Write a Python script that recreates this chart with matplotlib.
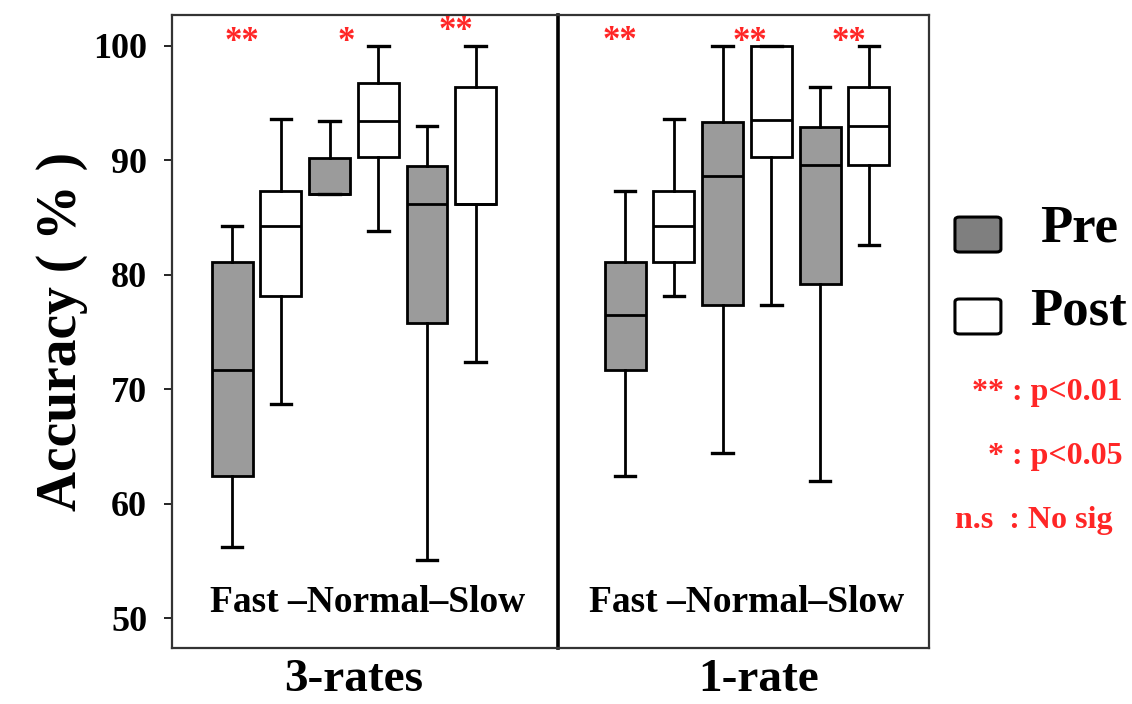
import matplotlib
matplotlib.use("Agg")
import matplotlib.pyplot as plt
from matplotlib.patches import FancyBboxPatch

plt.rcParams["font.family"] = ["Liberation Serif", "DejaVu Serif"]
plt.rcParams["font.weight"] = "bold"
plt.rcParams["axes.labelweight"] = "bold"

# ---------------------------------
# Data: each box is [whislo, q1, median, q3, whishi]
# ---------------------------------
rates = ["Fast", "Normal", "Slow"]
panel_names = ["3-rates", "1-rate"]

r3_pre = [[56.2, 62.4, 71.7, 81.1, 84.2],
          [87.0, 87.0, 87.0, 90.2, 93.4],
          [55.1, 75.8, 86.2, 89.5, 93.0]]
r3_post = [[68.7, 78.1, 84.2, 87.3, 93.6],
           [83.8, 90.3, 93.4, 96.7, 100.0],
           [72.4, 86.2, 86.2, 96.4, 100.0]]
r1_pre = [[62.4, 71.7, 76.5, 81.1, 87.3],
          [64.4, 77.3, 88.6, 93.3, 100.0],
          [62.0, 79.2, 89.6, 92.9, 96.4]]
r1_post = [[78.1, 81.1, 84.2, 87.3, 93.6],
           [77.3, 90.3, 93.5, 100.0, 100.0],
           [82.6, 89.6, 93.0, 96.4, 100.0]]

sig_3 = ["**", "*", "**"]
sig_1 = ["**", "**", "**"]
notes = ["** : p<0.01", "* : p<0.05", "n.s  : No sig"]
yticks = [50, 60, 70, 80, 90, 100]

RED = "#ff2626"
PRE_FILL = "#9b9b9b"


def to_stats(rows):
    return [dict(whislo=r[0], q1=r[1], med=r[2], q3=r[3], whishi=r[4], fliers=[])
            for r in rows]


def draw_boxes(ax, rows, positions, fill):
    ax.bxp(to_stats(rows), positions=positions, widths=0.84, capwidths=0.42,
           patch_artist=True, showfliers=False,
           boxprops=dict(facecolor=fill, edgecolor="black", linewidth=2.0),
           medianprops=dict(color="black", linewidth=2.0),
           whiskerprops=dict(color="black", linewidth=2.0),
           capprops=dict(color="black", linewidth=2.4))


fig = plt.figure(figsize=(11.32, 7.04), dpi=100)
ax1 = fig.add_axes([0.152, 0.0795, 0.341, 0.899])
ax2 = fig.add_axes([0.493, 0.0795, 0.328, 0.899])
ax2.patch.set_visible(False)

panels = [(ax1, r3_pre, r3_post, sig_3, (-0.232, 7.69), [1.2, 3.35, 5.6], [100.3, 100.3, 101.2], 3.79, 0.469),
          (ax2, r1_pre, r1_post, sig_1, (-0.376, 7.24), [0.9, 3.55, 5.58], [100.4, 100.3, 100.3], 3.5, 0.542)]

for i, (ax, pre, post, sig, xl, sx, sy, tx, lx) in enumerate(panels):
    draw_boxes(ax, pre, [1, 3, 5], PRE_FILL)
    draw_boxes(ax, post, [2, 4, 6], "white")
    ax.set_xlim(*xl)
    ax.set_ylim(47.38, 102.66)
    ax.set_xticks([])
    for s, x, y in zip(sig, sx, sy):
        ax.text(x, y, s, color=RED, fontsize=25, ha="center", va="center", zorder=5)
    ax.text(tx, 51.4, f"{rates[0]} \u2013{rates[1]}\u2013{rates[2]}",
            fontsize=27, ha="center", va="center")
    for sp in ax.spines.values():
        sp.set_color("#333333")
        sp.set_linewidth(1.6)

# panel names under each box group
fig.text(0.312, 0.004, panel_names[0], fontsize=34, ha="center", va="bottom")
fig.text(0.670, 0.004, panel_names[1], fontsize=34, ha="center", va="bottom")

ax1.set_yticks(yticks)
ax1.tick_params(axis="y", length=6, width=1.2, pad=12, labelsize=26, colors="black")
ax1.spines["right"].set_color("black")
ax1.spines["right"].set_linewidth(2.6)
ax1.set_ylabel("Accuracy ( % )", fontsize=40, labelpad=4)

ax2.set_yticks([])
ax2.spines["left"].set_visible(False)

# ---------------------------------
# Legend and significance notes
# ---------------------------------
for y0, fill, label, ty in [(0.642, "#7f7f7f", "Pre", 0.676), (0.5256, "white", "Post", 0.557)]:
    fig.patches.append(FancyBboxPatch((0.8436, y0), 0.0406, 0.0497,
                                      boxstyle="round,pad=0,rounding_size=0.004",
                                      facecolor=fill, edgecolor="black", linewidth=2.2,
                                      transform=fig.transFigure, figure=fig))
    fig.text(0.953, ty, label, fontsize=38, ha="center", va="center")

fig.text(0.992, 0.442, notes[0], color=RED, fontsize=23, ha="right", va="center")
fig.text(0.992, 0.351, notes[1], color=RED, fontsize=23, ha="right", va="center")
fig.text(0.8436, 0.261, notes[2], color=RED, fontsize=23, ha="left", va="center")

fig.savefig("out.png", dpi=100)
